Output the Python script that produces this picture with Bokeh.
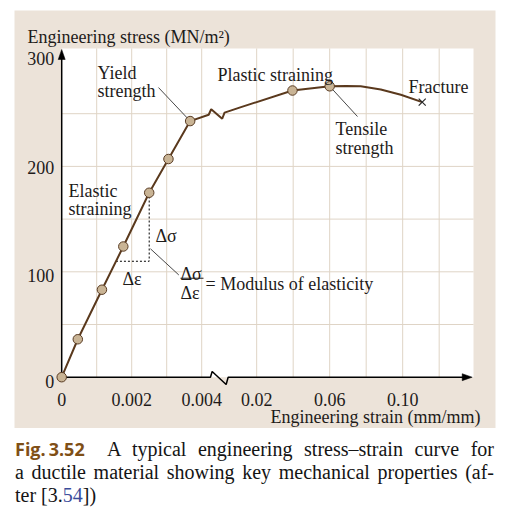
from bokeh.plotting import figure
from bokeh.models import Range1d, Div
from bokeh.layouts import column
from bokeh.embed import file_html
from bokeh.resources import INLINE
from bokeh.core.properties import value

# ---------------- data ----------------
# elastic region (strain on the 0..0.004 scale)
elastic_strain = [0.0, 0.00046, 0.00115, 0.00176, 0.0025, 0.00305, 0.00367]
elastic_stress = [0, 36, 83, 124, 175, 207, 243]
# end of the elastic branch just before the axis break
break_strain = 0.0042
break_stress = 249
# plastic region (strain on the 0.02..0.12 scale)
plastic_strain = [0.0024, 0.011, 0.0396, 0.06, 0.069, 0.077, 0.088, 0.099, 0.1107]
plastic_stress = [251, 256, 272, 276, 276.3, 276, 273, 268, 261]
plastic_marker_strain = [0.0396, 0.06]
plastic_marker_stress = [272, 276]
fracture_strain = [0.1107]
fracture_stress = [261]
# modulus triangle
tri_strain = [0.00155, 0.0025, 0.0025]
tri_stress = [110, 110, 175]

# ticks
y_ticks = [0, 100, 200, 300]
y_tick_labels = ["0", "100", "200", "300"]
x_ticks_elastic = [0.0, 0.002, 0.004]
x_tick_labels_elastic = ["0", "0.002", "0.004"]
x_ticks_plastic = [0.02, 0.06, 0.10]
x_tick_labels_plastic = ["0.02", "0.06", "0.10"]
grid_stress = [50, 100, 150, 200, 250]
grid_strain_elastic = [0.001, 0.002, 0.003, 0.004]
grid_strain_plastic = [0.02, 0.04, 0.06, 0.08, 0.10, 0.12]

# ---------------- broken-axis scales ----------------
PX_X = 35.0      # screen px per display unit (x)
PX_Y = 1.054     # screen px per MN/m^2


def xe(s):
    return s * 1000.0


def xp(s):
    return 5.571 + (s - 0.02) * 52.143


BEIGE = "#ECE3D9"
GRID = "#DFD4C6"
CURVE = "#5A391D"
MARK_FILL = "#C9B495"
MARK_LINE = "#5A3D25"
TXT = "#1E1B1A"
FONT = value("Liberation Serif")
FS = "18px"

X_MAX = 11.766
Y_MAX = 311.9

p = figure(width=497, height=428,
           x_range=Range1d(-1.3486, 12.3943), y_range=Range1d(-48.67, 347.91),
           x_axis_type=None, y_axis_type=None,
           toolbar_location=None, output_backend="svg",
           min_border_left=14, min_border_right=2, min_border_top=10, min_border_bottom=0)
p.background_fill_color = BEIGE
p.border_fill_color = "white"
p.outline_line_color = None
p.grid.grid_line_color = None

# white plotting area
p.quad(left=[0], right=[X_MAX], bottom=[0], top=[Y_MAX], fill_color="white", line_color=None)

# grid lines
gx = [xe(s) for s in grid_strain_elastic] + [xp(s) for s in grid_strain_plastic]
p.segment(x0=gx, y0=[0] * len(gx), x1=gx, y1=[Y_MAX] * len(gx), line_color=GRID, line_width=1)
p.segment(x0=[0] * len(grid_stress), y0=grid_stress, x1=[X_MAX] * len(grid_stress), y1=grid_stress,
          line_color=GRID, line_width=1)

# axes (with break on x)
bx = xe(0.00425)
ax_x = [0, bx, bx + 1.7 / PX_X, bx + 15.7 / PX_X, bx + 17.7 / PX_X, 11.6]
ax_y = [0, 0, 5.7 / PX_Y, -7.3 / PX_Y, 0, 0]
p.line(ax_x, ax_y, line_color="black", line_width=1.5)
y_tip = 310.9
p.line([0, 0], [0, y_tip - 5 / PX_Y], line_color="black", line_width=1.5)
x_tip = 11.729
p.patches(xs=[[0, 3.5 / PX_X, -3.5 / PX_X], [x_tip, x_tip - 10 / PX_X, x_tip - 10 / PX_X]],
          ys=[[y_tip, y_tip - 10 / PX_Y, y_tip - 10 / PX_Y], [0, 3.5 / PX_Y, -3.5 / PX_Y]],
          fill_color="black", line_color="black", line_width=0.5)

# modulus triangle (dashed)
p.line([xe(s) for s in tri_strain], tri_stress, line_color="black", line_width=1, line_dash="2 2")

# leader lines
p.segment(x0=[2.766, xp(0.06), 2.537], y0=[274.8, 276, 121.8],
          x1=[xe(0.00367), 8.451, 3.346], y1=[243, 247.3, 97.0],
          line_color="#333333", line_width=0.9)
# fraction bar
p.segment(x0=[3.394], y0=[93.9], x1=[4.051], y1=[93.9], line_color=TXT, line_width=1)

# curve with break zigzag
bxe = xe(break_strain)
curve_x = ([xe(s) for s in elastic_strain] + [bxe, bxe + 2.5 / PX_X, bxe + 13.5 / PX_X]
           + [xp(s) for s in plastic_strain])
curve_y = (list(elastic_stress) + [break_stress, break_stress + 5.5 / PX_Y, break_stress - 4 / PX_Y]
           + list(plastic_stress))
p.line(curve_x, curve_y, line_color=CURVE, line_width=2)

# markers
mx = [xe(s) for s in elastic_strain] + [xp(s) for s in plastic_marker_strain]
my = list(elastic_stress) + list(plastic_marker_stress)
p.scatter(mx, my, size=9.5, fill_color=MARK_FILL, line_color=MARK_LINE, line_width=1)
p.scatter([xp(s) for s in fracture_strain], fracture_stress, marker="x", size=10,
          line_color="#2a2a2a", line_width=1.2)

# tick labels
p.text(x=[0] * len(y_ticks), y=y_ticks, text=y_tick_labels, x_offset=-7.5, y_offset=[4, 4, 1, -2],
       text_align="right", text_baseline="alphabetic", text_font=FONT, text_font_size=FS,
       text_color=TXT)
tx = [xe(s) for s in x_ticks_elastic] + [xp(s) for s in x_ticks_plastic]
p.text(x=tx, y=[0] * len(tx), text=x_tick_labels_elastic + x_tick_labels_plastic, y_offset=22.6,
       text_align="center", text_baseline="alphabetic", text_font=FONT, text_font_size=FS,
       text_color=TXT)

# annotations
lab_text = ["Engineering stress (MN/m\u00b2)", "Yield", "strength", "Plastic straining", "Fracture",
            "Tensile", "strength", "Elastic", "straining", "\u0394\u03c3", "\u0394\u03b5",
            "\u0394\u03c3", "\u0394\u03b5", "= Modulus of elasticity"]
lab_x = [-0.977, 1.023, 1.023, 4.451, 9.909, 7.823, 7.823, 0.194, 0.194, 2.68, 1.737,
         3.394, 3.394, 4.109]
lab_y = [322.5, 288.8, 271.3, 286.9, 275.1, 235.7, 217.5, 176.5, 159.2, 134.4, 93.4,
         98.1, 79.7, 88.6]
p.text(x=lab_x, y=lab_y, text=lab_text, text_align="left", text_baseline="alphabetic",
       text_font=FONT, text_font_size=FS, text_color=TXT)
p.text(x=[11.966], y=[-37.95], text=["Engineering strain (mm/mm)"], text_align="right",
       text_baseline="alphabetic", text_font=FONT, text_font_size=FS, text_color=TXT)

caption = Div(width=505, height=92, margin=(0, 0, 0, 0), text="""
<div style="box-sizing:content-box; font-family:'Liberation Serif'; font-size:20px; line-height:23px;
            color:#141414; padding:10px 0 0 15px; width:479px;">
<div style="text-align:justify; text-align-last:justify; white-space:nowrap;"><span style="font-family:'Open Sans'; font-weight:bold; color:#7F4F16; font-size:18px;">Fig.&#8201;3.52</span>&nbsp; A typical engineering stress&#8211;strain curve for</div>
<div style="text-align:justify; text-align-last:justify;">a ductile material showing key mechanical properties (af-</div>
<div>ter [3.<span style="color:#3A4C9A;">54</span>])</div>
</div>
""")

layout = column(p, caption, spacing=0)
open("out.html", "w").write(file_html(layout, INLINE))
